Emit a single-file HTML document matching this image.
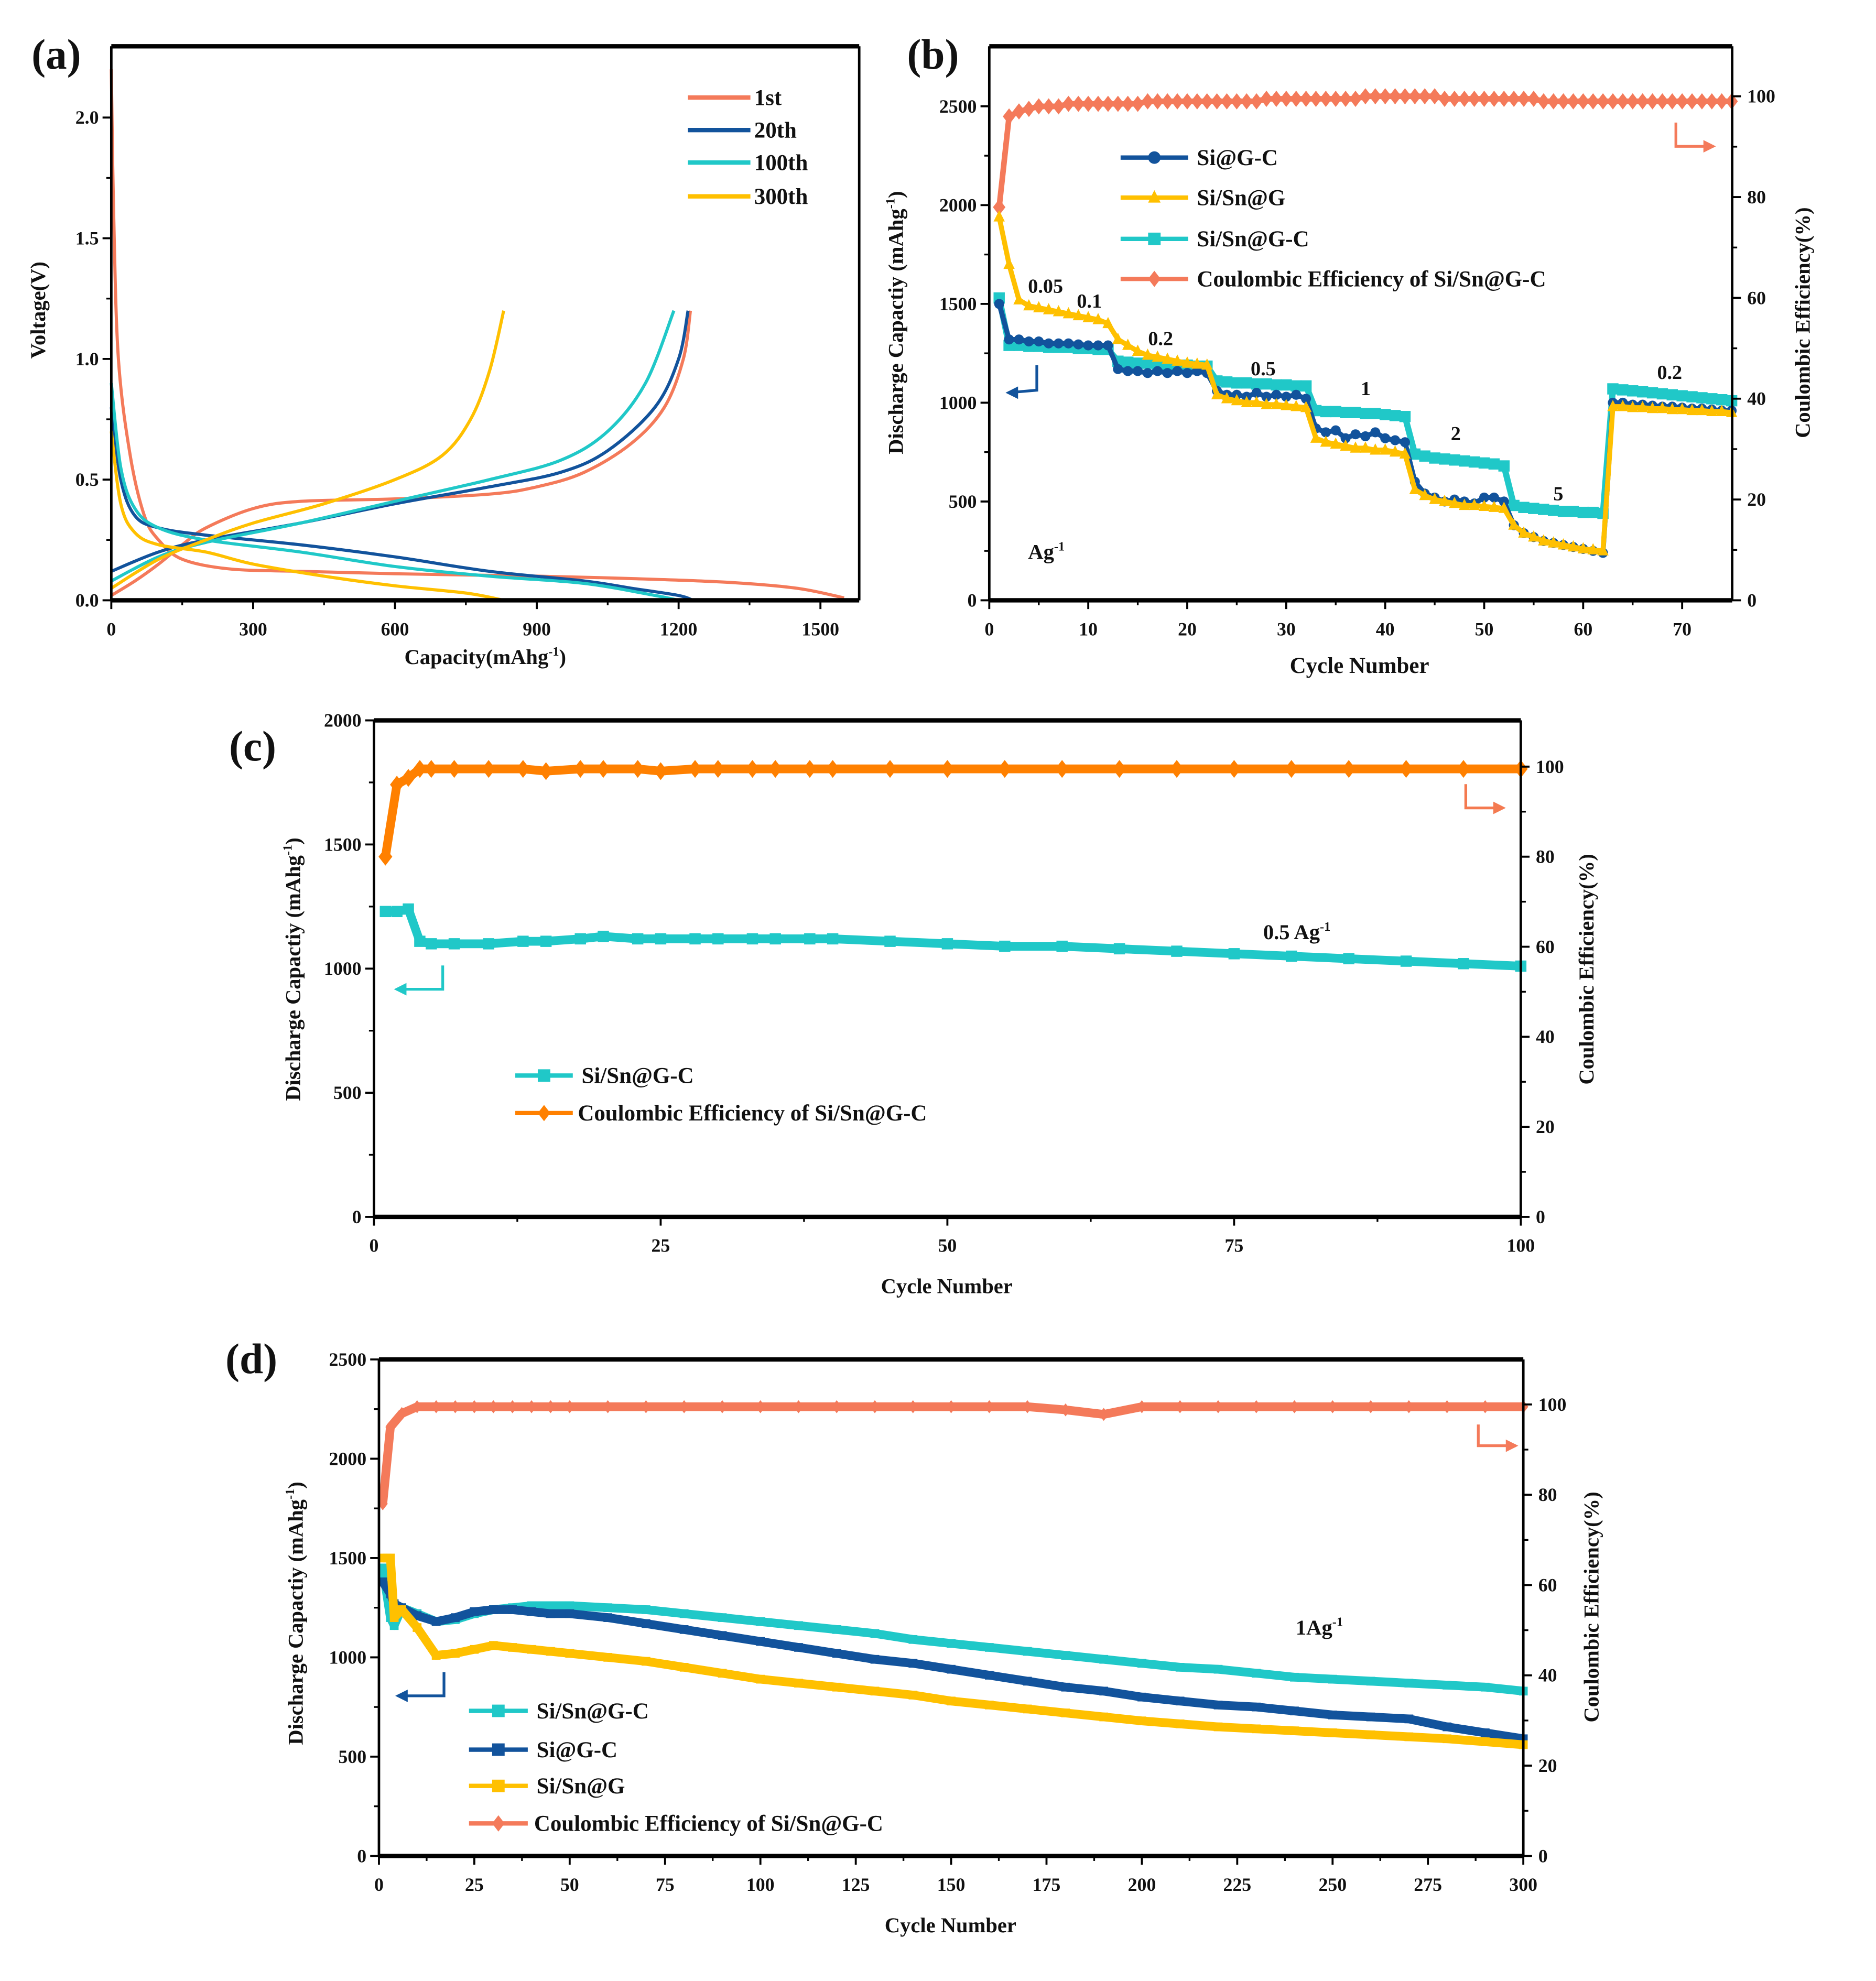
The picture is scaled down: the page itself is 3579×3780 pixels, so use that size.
<!DOCTYPE html>
<html><head><meta charset="utf-8"><style>
html,body{margin:0;padding:0;background:#fff}
svg{display:block}
text{font-family:"Liberation Serif",serif;font-weight:bold;fill:#111}
</style></head><body>
<svg id="fig" xmlns="http://www.w3.org/2000/svg" width="3579" height="3780" viewBox="0 0 1500 1584" preserveAspectRatio="none"></svg>
<script>
// ---------- Panel (a) data: [capacity, voltage] ----------
const a1stDis=[[0,2.2],[5,1.6],[15,1.0],[40,0.6],[70,0.35],[100,0.25],[150,0.17],[250,0.13],[400,0.12],[600,0.11],[900,0.1],[1100,0.09],[1300,0.075],[1450,0.05],[1550,0.01]];
const a1stCha=[[0,0.02],[50,0.08],[100,0.15],[150,0.23],[200,0.3],[300,0.38],[400,0.41],[600,0.42],[800,0.44],[900,0.47],[1000,0.53],[1100,0.65],[1170,0.8],[1210,1.0],[1225,1.2]];
const a20Dis=[[0,0.8],[20,0.5],[50,0.35],[100,0.3],[200,0.27],[400,0.23],[600,0.18],[800,0.12],[1000,0.08],[1100,0.05],[1200,0.02],[1230,0.0]];
const a20Cha=[[0,0.12],[100,0.2],[200,0.25],[400,0.32],[600,0.4],[800,0.47],[950,0.53],[1050,0.62],[1150,0.8],[1200,1.0],[1220,1.2]];
const a100Dis=[[0,0.9],[20,0.55],[50,0.38],[100,0.3],[200,0.25],[400,0.2],[600,0.14],[800,0.1],[1000,0.07],[1150,0.02],[1200,0]];
const a100Cha=[[0,0.08],[100,0.18],[200,0.24],[400,0.32],[600,0.41],[800,0.5],[950,0.58],[1050,0.7],[1130,0.9],[1190,1.2]];
const a300Dis=[[0,0.7],[20,0.4],[50,0.28],[100,0.23],[200,0.2],[300,0.15],[450,0.1],[600,0.06],[750,0.03],[830,0]];
const a300Cha=[[0,0.05],[100,0.17],[200,0.25],[300,0.32],[450,0.4],[600,0.5],[700,0.6],[760,0.75],[800,0.95],[830,1.2]];
const aXTicks=[0,300,600,900,1200,1500];
const aYTicks=[0.0,0.5,1.0,1.5,2.0];

// ---------- Panel (b) data (cycles 1..75) ----------
const bCyan=[1530,1290,1290,1285,1285,1280,1280,1280,1275,1275,1270,1270,1210,1205,1200,1200,1195,1195,1190,1190,1185,1185,1110,1105,1100,1100,1095,1095,1090,1090,1085,1085,960,955,955,950,950,945,945,940,935,930,740,730,720,715,710,705,700,695,690,680,480,470,465,460,455,450,450,445,445,440,1070,1065,1060,1055,1050,1045,1040,1035,1030,1025,1020,1015,1010];
const bNavy=[1500,1320,1320,1310,1310,1300,1300,1300,1295,1290,1290,1290,1170,1160,1160,1150,1160,1150,1160,1150,1160,1150,1060,1040,1040,1030,1050,1030,1040,1030,1040,1020,870,850,860,820,840,830,850,820,810,800,600,540,520,500,510,500,490,520,520,500,380,340,320,300,290,280,270,260,250,240,1000,1000,990,990,985,980,980,975,970,970,965,960,960];
const bYellow=[1940,1700,1520,1490,1480,1470,1460,1450,1440,1430,1420,1400,1320,1290,1260,1240,1230,1220,1210,1200,1195,1190,1040,1020,1010,1000,1000,990,990,985,980,975,820,800,790,780,770,770,760,760,750,740,560,530,510,500,490,480,480,475,470,465,380,340,320,300,290,280,270,260,255,250,980,980,975,975,970,970,965,965,960,960,955,955,950];
const bCE=[78,96,97,97.5,98,98,98,98.5,98.5,98.5,98.5,98.5,98.5,98.5,98.5,99,99,99,99,99,99,99,99,99,99,99,99,99.5,99.5,99.5,99.5,99.5,99.5,99.5,99.5,99.5,99.5,100,100,100,100,100,100,100,100,99.5,99.5,99.5,99.5,99.5,99.5,99.5,99.5,99.5,99.5,99,99,99,99,99,99,99,99,99,99,99,99,99,99,99,99,99,99,99,99];
const bXTicks=[0,10,20,30,40,50,60,70];
const bYTicks=[0,500,1000,1500,2000,2500];
const bRTicks=[0,20,40,60,80,100];
const bRates=[["0.05",822,234],["0.1",861,246],["0.2",918,276],["0.5",1000,300],["1",1088,316],["2",1160,352],["5",1242,400],["0.2",1325,303]];

// ---------- Panel (c) data ----------
const cCycles=[1,2,3,4,5,7,10,13,15,18,20,23,25,28,30,33,35,38,40,45,50,55,60,65,70,75,80,85,90,95,100];
const cCap=[1230,1230,1240,1110,1100,1100,1100,1110,1110,1120,1130,1120,1120,1120,1120,1120,1120,1120,1120,1110,1100,1090,1090,1080,1070,1060,1050,1040,1030,1020,1010];
const cCE=[80,96,97.5,99.5,99.5,99.5,99.5,99.5,99,99.5,99.5,99.5,99,99.5,99.5,99.5,99.5,99.5,99.5,99.5,99.5,99.5,99.5,99.5,99.5,99.5,99.5,99.5,99.5,99.5,99.5];
const cXTicks=[0,25,50,75,100];
const cYTicks=[0,500,1000,1500,2000];
const cRTicks=[0,20,40,60,80,100];

// ---------- Panel (d) data ----------
const dCycles=[1,3,4,6,10,15,20,25,30,35,40,45,50,60,70,80,90,100,110,120,130,140,150,160,170,180,190,200,210,220,230,240,250,260,270,280,290,300];
const dCyan=[1450,1200,1160,1250,1220,1180,1190,1220,1240,1250,1260,1260,1260,1250,1240,1220,1200,1180,1160,1140,1120,1090,1070,1050,1030,1010,990,970,950,940,920,900,890,880,870,860,850,830];
const dNavy=[1380,1320,1270,1250,1210,1180,1200,1230,1240,1240,1230,1220,1220,1200,1170,1140,1110,1080,1050,1020,990,970,940,910,880,850,830,800,780,760,750,730,710,700,690,650,620,590];
const dYellow=[1500,1500,1200,1240,1150,1010,1020,1040,1060,1050,1040,1030,1020,1000,980,950,920,890,870,850,830,810,780,760,740,720,700,680,665,650,640,630,620,610,600,590,575,560];
const dCE=[78,95,96,98,99.5,99.5,99.5,99.5,99.5,99.5,99.5,99.5,99.5,99.5,99.5,99.5,99.5,99.5,99.5,99.5,99.5,99.5,99.5,99.5,99.5,98.8,97.8,99.5,99.5,99.5,99.5,99.5,99.5,99.5,99.5,99.5,99.5,99.5];
const dXTicks=[0,25,50,75,100,125,150,175,200,225,250,275,300];
const dYTicks=[0,500,1000,1500,2000,2500];
const dRTicks=[0,20,40,60,80,100];

const NS="http://www.w3.org/2000/svg";
const svg=document.getElementById('fig');
function mk(tag,attrs,parent){const e=document.createElementNS(NS,tag);for(const k in attrs)e.setAttribute(k,attrs[k]);(parent||svg).appendChild(e);return e;}
function txt(s,x,y,size,anchor,parent,rot){const t=mk('text',{x:x,y:y,'font-size':size,'text-anchor':anchor||'middle'},parent);if(rot)t.setAttribute('transform','rotate(-90 '+x+' '+y+')');t.textContent=s;return t;}
function scale(d0,d1,r0,r1){return v=>r0+(v-d0)*(r1-r0)/(d1-d0);}

function frame(g,x0,x1,y0,y1){
  mk('line',{x1:x0,y1:y0,x2:x1,y2:y0,stroke:'#000','stroke-width':3.5},g);
  mk('line',{x1:x0,y1:y1,x2:x1,y2:y1,stroke:'#000','stroke-width':3.5},g);
  mk('line',{x1:x0,y1:y0,x2:x0,y2:y1,stroke:'#000','stroke-width':2},g);
  mk('line',{x1:x1,y1:y0,x2:x1,y2:y1,stroke:'#000','stroke-width':2},g);
}
function xticks(g,ticks,sx,y,fmt){
  for(let i=0;i<ticks.length;i++){const x=sx(ticks[i]);
    const t=mk('line',{x1:x,y1:y,x2:x,y2:y+7,stroke:'#000','stroke-width':1.6},g);
    
    const l=txt(fmt?fmt(ticks[i]):String(ticks[i]),x,y+28,15,'middle',g);
    
    if(i<ticks.length-1){const xm=(x+sx(ticks[i+1]))/2;mk('line',{x1:xm,y1:y,x2:xm,y2:y+4,stroke:'#000','stroke-width':1.4},g);}
  }
}
function yticks(g,ticks,sy,x,dir,fmt){
  for(let i=0;i<ticks.length;i++){const y=sy(ticks[i]);
    const t=mk('line',{x1:x,y1:y,x2:x+7*dir,y2:y,stroke:'#000','stroke-width':1.6},g);
    
    const l=txt(fmt?fmt(ticks[i]):String(ticks[i]),x+(dir<0?-10:12),y+5,15,dir<0?'end':'start',g);
    
    if(i<ticks.length-1){const ym=(y+sy(ticks[i+1]))/2;mk('line',{x1:x,y1:ym,x2:x+4*dir,y2:ym,stroke:'#000','stroke-width':1.4},g);}
  }
}
function polyXY(g,pts,sx,sy,color,w,name,smooth){
  const P=pts.map(p=>[sx(p[0]),sy(p[1])]);
  let d='M'+P[0][0].toFixed(2)+' '+P[0][1].toFixed(2);
  for(let i=1;i<P.length;i++){
    if(smooth){
      const p0=P[Math.max(0,i-2)],p1=P[i-1],p2=P[i],p3=P[Math.min(P.length-1,i+1)];
      const c1x=p1[0]+(p2[0]-p0[0])/6,c1y=p1[1]+(p2[1]-p0[1])/6;
      const c2x=p2[0]-(p3[0]-p1[0])/6,c2y=p2[1]-(p3[1]-p1[1])/6;
      d+=' C'+c1x.toFixed(2)+' '+c1y.toFixed(2)+' '+c2x.toFixed(2)+' '+c2y.toFixed(2)+' '+p2[0].toFixed(2)+' '+p2[1].toFixed(2);
    } else d+=' L'+P[i][0].toFixed(2)+' '+P[i][1].toFixed(2);
  }
  const p=mk('path',{d:d,fill:'none',stroke:color,'stroke-width':w,'stroke-linejoin':'round'},g);
  return p;
}
function marker(g,shape,x,y,color,s){
  if(shape==='sq')return mk('rect',{x:x-s,y:y-s,width:2*s,height:2*s,fill:color},g);
  if(shape==='ci')return mk('circle',{cx:x,cy:y,r:s,fill:color},g);
  if(shape==='tr')return mk('polygon',{points:`${x},${y-s*1.2} ${x-s},${y+s*0.8} ${x+s},${y+s*0.8}`,fill:color},g);
  return mk('polygon',{points:`${x},${y-s*1.3} ${x-s},${y} ${x},${y+s*1.3} ${x+s},${y}`,fill:color},g);
}
function series(g,xs,ys,sx,sy,color,w,shape,ms,name){
  const pts=ys.map((v,i)=>[xs[i],v]);
  polyXY(g,pts,sx,sy,color,w,name,false);
  for(const p of pts){const m=marker(g,shape,sx(p[0]),sy(p[1]),color,ms);
    }
}
function legend(g,x0,x1,y,color,shape,label,tx,name){
  const lg=mk('g',{},g);
  mk('line',{x1:x0,y1:y,x2:x1,y2:y,stroke:color,'stroke-width':3.5},lg);
  if(shape)marker(lg,shape,(x0+x1)/2,y,color,5);
  txt(label,tx,y+6,18,'start',lg);
}
function arrow(g,pts,color,name){
  const p=mk('polyline',{points:pts.map(q=>q.join(',')).join(' '),fill:'none',stroke:color,'stroke-width':2.2},g);
  
  const a=pts[pts.length-1],b=pts[pts.length-2];const dir=Math.sign(a[0]-b[0]);
  mk('polygon',{points:`${a[0]+dir*2},${a[1]} ${a[0]-dir*8},${a[1]-5} ${a[0]-dir*8},${a[1]+5}`,fill:color},g);
}
function sup(t,base,supS,x,y,size,anchor,g,rot){
  const el=mk('text',{x:x,y:y,'font-size':size,'text-anchor':anchor||'middle'},g);
  if(rot)el.setAttribute('transform','rotate(-90 '+x+' '+y+')');
  el.appendChild(document.createTextNode(base));
  const ts=mk('tspan',{dy:-size*0.4,'font-size':size*0.6},el);ts.textContent=supS;
  if(t){const t2=mk('tspan',{dy:size*0.4},el);t2.textContent=t;}
  return el;
}

const SAL='#f47a5a',NAV='#12539c',CYA='#20c8c8',YEL='#ffc000',ORA='#ff8000';

// ===== Panel a =====
(function(){
  const g=mk('g',{});
  const sx=scale(0,1500,89,656),sy=scale(0,2.0,480,94);
  polyXY(g,a1stDis,sx,sy,SAL,2.5,'line-1st-discharge',true);polyXY(g,a1stCha,sx,sy,SAL,2.5,'line-1st-charge',true);
  polyXY(g,a20Dis,sx,sy,NAV,2.5,'line-20th-discharge',true);polyXY(g,a20Cha,sx,sy,NAV,2.5,'line-20th-charge',true);
  polyXY(g,a100Dis,sx,sy,CYA,2.5,'line-100th-discharge',true);polyXY(g,a100Cha,sx,sy,CYA,2.5,'line-100th-charge',true);
  polyXY(g,a300Dis,sx,sy,YEL,2.5,'line-300th-discharge',true);polyXY(g,a300Cha,sx,sy,YEL,2.5,'line-300th-charge',true);
  frame(g,89,687,37,480);
  xticks(g,aXTicks,sx,480);
  yticks(g,aYTicks,sy,89,-1,v=>v.toFixed(1));
  txt('Voltage(V)',36,248,17,'middle',g,true);
  sup(')','Capacity(mAhg','-1',388,531,17,'middle',g);
  txt('(a)',45,55,34,'middle',g);
  legend(g,550,600,78,SAL,null,'1st',603,'legend-1st');
  legend(g,550,600,104,NAV,null,'20th',603,'legend-20th');
  legend(g,550,600,130,CYA,null,'100th',603,'legend-100th');
  legend(g,550,600,157,YEL,null,'300th',603,'legend-300th');
})();

// ===== Panel b =====
(function(){
  const g=mk('g',{});
  const sx=scale(0,70,791,1345),sy=scale(0,2500,480,85),sr=scale(0,100,480,77);
  const cyc=bCyan.map((_,i)=>i+1);
  series(g,cyc,bCE,sx,sr,SAL,4.5,'di',5,'series-b-coulombic-efficiency');
  series(g,cyc,bCyan,sx,sy,CYA,5,'sq',4.5,'series-b-si-sn-g-c');
  series(g,cyc,bNavy,sx,sy,NAV,4,'ci',4,'series-b-si-g-c');
  series(g,cyc,bYellow,sx,sy,YEL,4,'tr',4.5,'series-b-si-sn-g');
  frame(g,791,1385,37,480);
  xticks(g,bXTicks,sx,480);
  yticks(g,bYTicks,sy,791,-1);
  yticks(g,bRTicks,sr,1385,1);
  sup(')','Discharge Capactiy (mAhg','-1',722,258,17,'middle',g,true);
  txt('Coulombic Efficiency(%)',1447,258,17,'middle',g,true);
  txt('Cycle Number',1087,538,18,'middle',g);
  txt('(b)',746,55,34,'middle',g);
  for(const r of bRates){const t=txt(r[0],r[1],r[2],16,'start',g);}
  sup(null,'Ag','-1',822,447,17,'start',g);
  legend(g,896,950,126,NAV,'ci','Si@G-C',957,'legend-si-g-c');
  legend(g,896,950,158,YEL,'tr','Si/Sn@G',957,'legend-si-sn-g');
  legend(g,896,950,191,CYA,'sq','Si/Sn@G-C',957,'legend-si-sn-g-c');
  legend(g,896,950,223,SAL,'di','Coulombic Efficiency of Si/Sn@G-C',957,'legend-coulombic-efficiency');
  arrow(g,[[829,292],[829,312],[806,314]],NAV,'arrow-left-axis');
  arrow(g,[[1340,98],[1340,117],[1370,117]],SAL,'arrow-right-axis');
})();

// ===== Panel c =====
(function(){
  const g=mk('g',{});
  const sx=scale(0,100,299,1216),sy=scale(0,2000,973,576),sr=scale(0,100,973,613);
  series(g,cCycles,cCE,sx,sr,ORA,7,'di',5.5,'series-c-coulombic-efficiency');
  series(g,cCycles,cCap,sx,sy,CYA,7,'sq',4.5,'series-c-si-sn-g-c');
  frame(g,299,1216,576,973);
  xticks(g,cXTicks,sx,973);
  yticks(g,cYTicks,sy,299,-1);
  yticks(g,cRTicks,sr,1216,1);
  sup(')','Discharge Capactiy (mAhg','-1',240,775,17,'middle',g,true);
  txt('Coulombic Efficiency(%)',1274,775,17,'middle',g,true);
  txt('Cycle Number',757,1034,17,'middle',g);
  txt('(c)',202,608,34,'middle',g);
  sup(null,'0.5 Ag','-1',1010,751,17,'start',g);
  legend(g,412,458,860,CYA,'sq','Si/Sn@G-C',465,'legend-si-sn-g-c');
  legend(g,412,458,890,ORA,'di','Coulombic Efficiency of Si/Sn@G-C',462,'legend-coulombic-efficiency');
  arrow(g,[[354,772],[354,791],[317,791]],CYA,'arrow-left-axis');
  arrow(g,[[1172,627],[1172,646],[1202,646]],'#f47a50','arrow-right-axis');
})();

// ===== Panel d =====
(function(){
  const g=mk('g',{});
  const sx=scale(0,300,303,1218),sy=scale(0,2500,1484,1087),sr=scale(0,100,1484,1123);
  series(g,dCycles,dCE,sx,sr,SAL,7,'di',4,'series-d-coulombic-efficiency');
  series(g,dCycles,dCyan,sx,sy,CYA,7,'sq',3.5,'series-d-si-sn-g-c');
  series(g,dCycles,dNavy,sx,sy,NAV,7,'sq',3.5,'series-d-si-g-c');
  series(g,dCycles,dYellow,sx,sy,YEL,7,'sq',3.5,'series-d-si-sn-g');
  frame(g,303,1218,1087,1484);
  xticks(g,dXTicks,sx,1484);
  yticks(g,dYTicks,sy,303,-1);
  yticks(g,dRTicks,sr,1218,1);
  sup(')','Discharge Capactiy (mAhg','-1',242,1290,17,'middle',g,true);
  txt('Coulombic Efficiency(%)',1278,1285,17,'middle',g,true);
  txt('Cycle Number',760,1545,17,'middle',g);
  txt('(d)',201,1098,34,'middle',g);
  sup(null,'1Ag','-1',1036,1307,17,'start',g);
  legend(g,375,422,1368,CYA,'sq','Si/Sn@G-C',429,'legend-si-sn-g-c');
  legend(g,375,422,1399,NAV,'sq','Si@G-C',429,'legend-si-g-c');
  legend(g,375,422,1428,YEL,'sq','Si/Sn@G',429,'legend-si-sn-g');
  legend(g,375,422,1458,SAL,'di','Coulombic Efficiency of Si/Sn@G-C',427,'legend-coulombic-efficiency');
  arrow(g,[[355,1337],[355,1356],[318,1356]],NAV,'arrow-left-axis');
  arrow(g,[[1182,1139],[1182,1156],[1212,1156]],SAL,'arrow-right-axis');
})();
</script>
</body></html>
